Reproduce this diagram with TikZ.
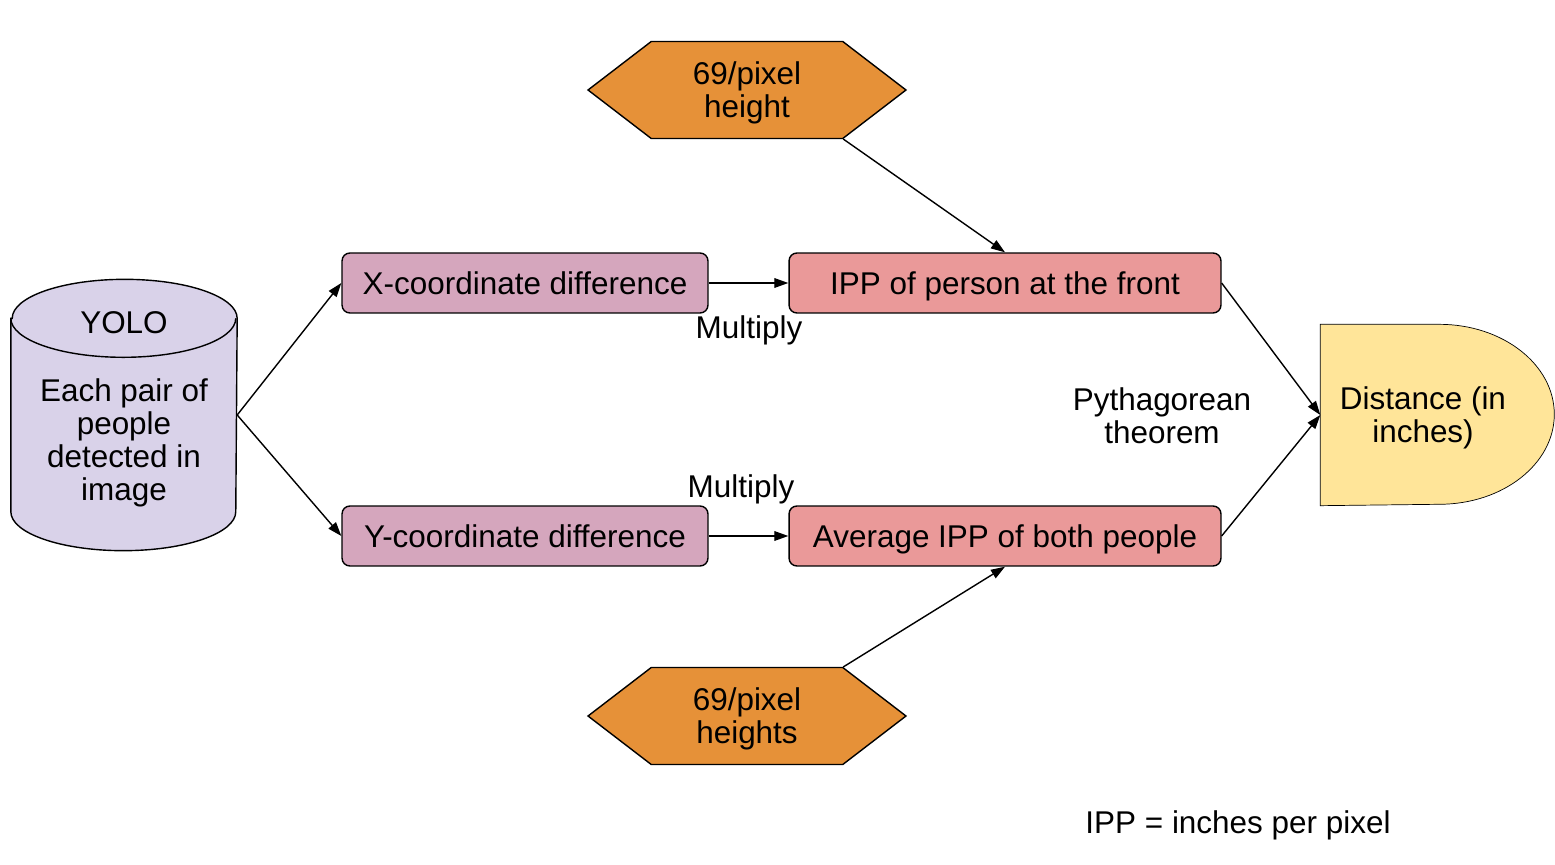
\documentclass[tikz,border=0pt]{standalone}
\usepackage{fontspec}
\setmainfont{Liberation Sans}
\definecolor{lavender}{RGB}{217,210,233}
\definecolor{mauve}{RGB}{213,166,189}
\definecolor{salmon}{RGB}{234,153,153}
\definecolor{amber}{RGB}{230,145,56}
\definecolor{butter}{RGB}{255,229,153}
\usetikzlibrary{arrows.meta,shapes.symbols,backgrounds}

\begin{document}
\begin{tikzpicture}[x=0.02cm,y=-0.02cm,line width=0.8pt,
  every node/.style={font=\fontsize{17.9}{18.8}\selectfont,align=center,inner sep=0pt},
  diffbox/.style={draw,rounded corners=4.5pt,fill=mauve,minimum width=7.32cm,minimum height=1.2cm,text height=17pt,text depth=4pt},
  ippbox/.style={draw,rounded corners=4.5pt,fill=salmon,minimum width=8.64cm,minimum height=1.2cm,text height=17pt,text depth=4pt},
  hexbox/.style={draw,fill=amber,signal,signal to=west and east,signal pointer angle=75,minimum width=6.36cm,minimum height=1.94cm,text depth=0pt},
  flow/.style={-{Triangle[length=8pt,width=5.5pt]}}]
  \useasboundingbox (0,0) rectangle (1555,865);
  % source: detections from YOLO, drawn as a cylinder
  \node[minimum width=4.5cm,minimum height=5.4cm] (yolo) at (124,415) {};
  \draw[fill=lavender] ([yshift=-0.78cm]yolo.north west) -- ([yshift=0.78cm]yolo.south west)
    arc[start angle=180,end angle=360,x radius=2.25cm,y radius=0.78cm]
    -- ([yshift=-0.78cm]yolo.north east)
    arc[start angle=0,end angle=180,x radius=2.25cm,y radius=0.78cm] -- cycle;
  \draw ([yshift=-0.78cm]yolo.north west) arc[start angle=180,end angle=360,x radius=2.25cm,y radius=0.78cm];
  \node (yolohead) at (124,323) {YOLO};
  \node (yolobody) at (124,443) {Each pair of\\people\\detected in\\image};
  % coordinate differences
  \node[diffbox] (xdiff) at (525,283) {X-coordinate difference};
  \node[diffbox] (ydiff) at (525,536) {Y-coordinate difference};
  % inches per pixel
  \node[ippbox] (ippfront) at (1005,283) {IPP of person at the front};
  \node[ippbox] (ippavg) at (1005,536) {Average IPP of both people};
  \node[hexbox] (htop) at (747,90) {69/pixel\\height};
  \node[hexbox] (hbot) at (747,716) {69/pixel\\heights};
  % result
  \node[minimum width=4.08cm,minimum height=3.6cm,text depth=0pt] (dist) at (1423,415) {Distance (in\\inches)};
  \begin{scope}[on background layer]
    \draw[fill=butter] (dist.north west) -- ++(119,0) arc[start angle=90,end angle=-90,x radius=2.3cm,y radius=1.8cm] -- (dist.south west) -- cycle;
  \end{scope}
  % arrows
  \draw[flow] (yolo.east) -- (xdiff.west);
  \draw[flow] (yolo.east) -- (ydiff.west);
  \draw[flow] (xdiff) -- (ippfront);
  \draw[flow] (ydiff) -- (ippavg);
  \draw[flow] (htop.-27) -- (ippfront.north);
  \draw[flow] (hbot.27) -- (ippavg.south);
  \draw[flow] (ippfront.east) -- (dist.west);
  \draw[flow] (ippavg.east) -- (dist.west);
  % labels
  \node (mulx) at (749,330) {Multiply};
  \node (muly) at (741,489) {Multiply};
  \node (pyth) at (1162,416) {Pythagorean\\theorem};
  \node (legend) at (1238,825) {IPP = inches per pixel};
\end{tikzpicture}
\end{document}
